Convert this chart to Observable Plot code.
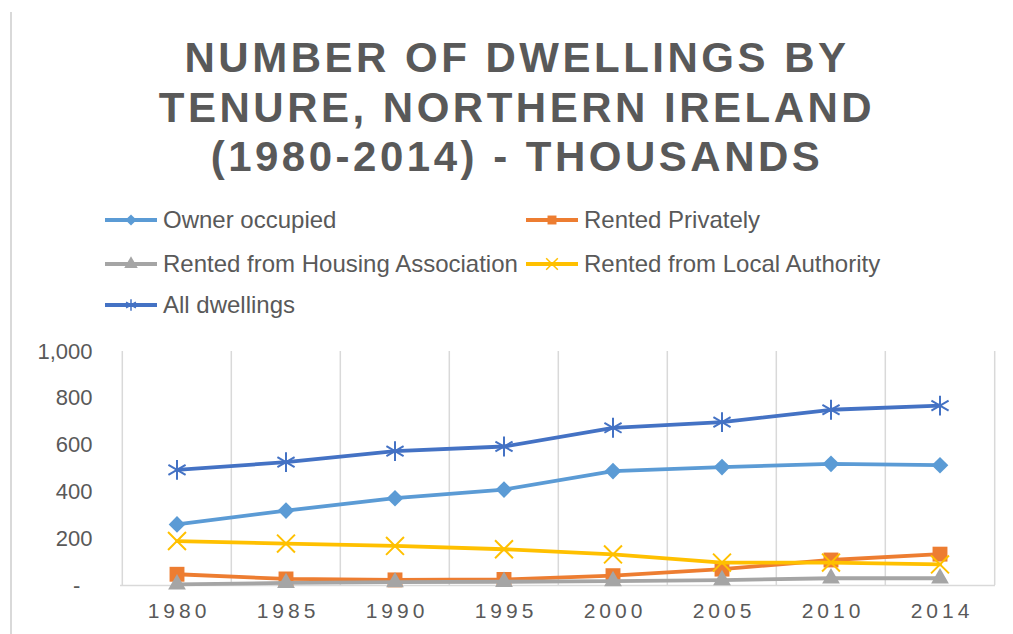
<!DOCTYPE html>
<html><head><meta charset="utf-8">
<script src="https://cdn.jsdelivr.net/npm/d3@7"></script>
<script src="https://cdn.jsdelivr.net/npm/@observablehq/plot@0.6"></script>
<style>
html,body{margin:0;padding:0;background:#fff;}
#wrap{position:relative;width:1013px;height:634px;overflow:hidden;font-family:"Liberation Sans",Arial,sans-serif;color:#595959;background:#fff;}
#border{position:absolute;left:10px;top:12px;width:1.5px;height:640px;background:#d9d9d9;}
#title{position:absolute;left:0;top:33px;width:1034px;text-align:center;font-weight:bold;font-size:42px;line-height:49.5px;letter-spacing:3.5px;}
.item{position:absolute;display:flex;align-items:center;height:30px;font-size:24px;white-space:nowrap;}
.item svg{margin-right:6px;display:block;}
#chart{position:absolute;left:0;top:330px;}
g[aria-label="x-axis tick label"] text{letter-spacing:4px;}
</style></head>
<body>
<div id="wrap">
  <div id="border"></div>
  <div id="title">NUMBER OF DWELLINGS BY<br>TENURE, NORTHERN IRELAND<br>(1980-2014) - THOUSANDS</div>
  <div id="legend"></div>
  <div id="chart"></div>
</div>
<script>
// ---- Data (thousands) ----
const years = ["1980", "1985", "1990", "1995", "2000", "2005", "2010", "2014"];
const ownerOccupied      = [261, 320, 373, 410, 489, 506, 520, 514];
const rentedPrivately    = [48, 28, 24, 26, 42, 70, 109, 134];
const housingAssociation = [5, 11, 14, 16, 19, 23, 31, 31];
const localAuthority     = [190, 179, 169, 155, 133, 98, 98, 90];
const allDwellings       = [494, 527, 574, 594, 674, 698, 751, 769];
const seriesNames = ["Owner occupied", "Rented Privately", "Rented from Housing Association", "Rented from Local Authority", "All dwellings"];
const yTicks = [0, 200, 400, 600, 800, 1000];

// ---- Styling ----
const seriesValues = [ownerOccupied, rentedPrivately, housingAssociation, localAuthority, allDwellings];
const colors  = ["#5B9BD5", "#ED7D31", "#A5A5A5", "#FFC000", "#4472C4"];
const symbols = ["diamond2", "square", "triangle", "times", "asterisk"];
const filled  = [true, true, true, false, false];
const radii   = [7.5, 8.4, 6.6, 8.2, 9.4];

const series = seriesNames.map((name, k) => ({
  name, values: seriesValues[k], color: colors[k], symbol: symbols[k], filled: filled[k], r: radii[k]
}));

// ---- Legend ----
const d3Sym = {diamond2: d3.symbolDiamond2, square: d3.symbolSquare, triangle: d3.symbolTriangle, times: d3.symbolTimes, asterisk: d3.symbolAsterisk};
const legendPos = [
  {left: 105, cy: 220}, {left: 526, cy: 220},
  {left: 105, cy: 264}, {left: 526, cy: 264},
  {left: 105, cy: 305}
];
const legend = document.getElementById("legend");
series.forEach((s, k) => {
  const p = legendPos[k];
  const div = document.createElement("div");
  div.className = "item";
  div.style.left = p.left + "px";
  div.style.top = (p.cy - 15) + "px";
  const path = d3.symbol(d3Sym[s.symbol], s.filled ? 80 : 90)();
  div.innerHTML =
    `<svg width="52" height="20"><line x1="0" x2="52" y1="10" y2="10" stroke="${s.color}" stroke-width="4"/>` +
    `<path transform="translate(26,10)" d="${path}" fill="${s.filled ? s.color : "none"}" stroke="${s.color}" stroke-width="${s.filled ? 0 : 1.5}"/></svg>` +
    `<span>${s.name}</span>`;
  legend.appendChild(div);
});

// ---- Chart ----
const W = 1013, H = 300, mL = 120, mR = 18;
const bw = (W - mL - mR) / years.length;
const grid = {stroke: "#d9d9d9", strokeWidth: 1.5};

const chart = Plot.plot({
  width: W, height: H,
  marginLeft: mL, marginRight: mR, marginTop: 21, marginBottom: 45,
  style: {fontFamily: '"Liberation Sans", Arial, sans-serif', color: "#595959", background: "transparent"},
  x: {type: "band", domain: years, padding: 0, label: null},
  y: {domain: [0, 1000], label: null},
  marks: [
    Plot.ruleX(years, {x: d => d, y1: 0, y2: 1000, dx: -bw / 2, ...grid}),
    Plot.ruleX(years.slice(-1), {x: d => d, y1: 0, y2: 1000, dx: bw / 2, ...grid}),
    Plot.ruleY([0], grid),
    Plot.axisY({ticks: yTicks, tickSize: 0, tickPadding: 28, fontSize: 22, color: "#595959",
      tickFormat: d => d === 0 ? "-\u2007" : d3.format(",")(d)}),
    Plot.axisX({tickSize: 0, tickPadding: 18, fontSize: 21, color: "#595959", dx: 2}),
    ...series.flatMap(s => [
      Plot.line(years, {x: d => d, y: (d, i) => s.values[i], stroke: s.color, strokeWidth: 3.8}),
      Plot.dot(years, {x: d => d, y: (d, i) => s.values[i], symbol: s.symbol, r: s.r,
        fill: s.filled ? s.color : "none", stroke: s.filled ? "none" : s.color, strokeWidth: 2})
    ])
  ]
});
document.getElementById("chart").appendChild(chart);
</script>
</body></html>
